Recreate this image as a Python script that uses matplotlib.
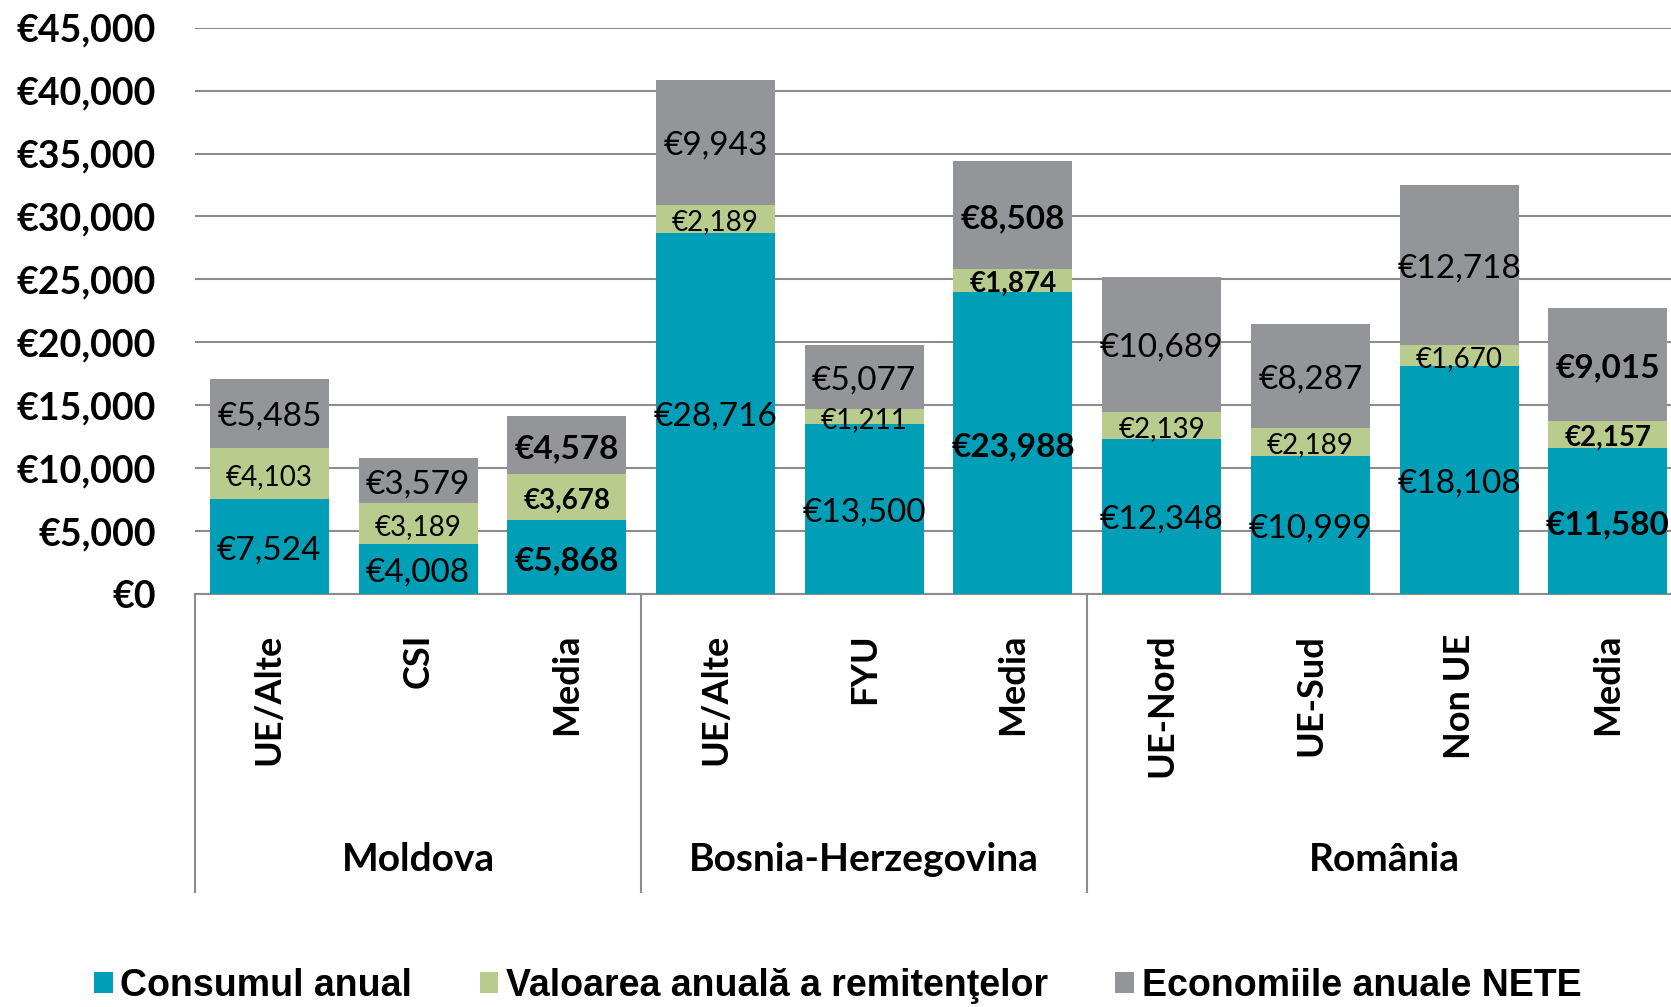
import matplotlib.pyplot as plt
import matplotlib.transforms as mtransforms
import numpy as np

categories = ['UE/Alte', 'CSI', 'Media', 'UE/Alte', 'FYU', 'Media',
              'UE-Nord', 'UE-Sud', 'Non UE', 'Media']
groups = ['Moldova', 'Bosnia-Herzegovina', 'România']
group_sizes = [3, 3, 4]
consum = [7524, 4008, 5868, 28716, 13500, 23988, 12348, 10999, 18108, 11580]
remitente = [4103, 3189, 3678, 2189, 1211, 1874, 2139, 2189, 1670, 2157]
economii = [5485, 3579, 4578, 9943, 5077, 8508, 10689, 8287, 12718, 9015]
is_media = [c == 'Media' for c in categories]
series_names = ['Consumul anual', 'Valoarea anuală a remitenţelor', 'Economiile anuale NETE']
yticks = np.arange(0, 45001, 5000)

colors = ['#009fb7', '#b8cc8e', '#939598']
grid_col = '#8c8c8c'

plt.rcParams['font.family'] = ['Lato', 'DejaVu Sans']

fig = plt.figure(figsize=(16.71, 10.07), dpi=100)
ax = fig.add_axes([0.1167, 0.4101, 0.890, 0.5624])

x = np.arange(len(categories))
bw = 0.8
b1 = ax.bar(x, consum, bw, color=colors[0], label=series_names[0], zorder=3)
b2 = ax.bar(x, remitente, bw, bottom=consum, color=colors[1], label=series_names[1], zorder=3)
bot3 = np.array(consum) + np.array(remitente)
b3 = ax.bar(x, economii, bw, bottom=bot3, color=colors[2], label=series_names[2], zorder=3)

# value labels, centred in each segment (nudged down a little)
for i in range(len(categories)):
    w = 'bold' if is_media[i] else 'normal'
    segs = [(0, consum[i], 24), (consum[i], remitente[i], 20), (bot3[i], economii[i], 24)]
    for bottom, val, fs in segs:
        ax.annotate('€{:,}'.format(val), (x[i], bottom + val / 2), xytext=(0, -2.5),
                    textcoords='offset points', ha='center', va='center',
                    fontsize=fs, fontweight=w, color='black', zorder=4)

ax.set_xlim(-0.5, len(categories) - 0.5)
ax.set_ylim(0, 45000)
ax.set_yticks(yticks)
ax.set_yticklabels(['€{:,}'.format(v) for v in yticks], fontsize=27, fontweight='bold')
ax.tick_params(axis='y', length=0, pad=28)
ax.tick_params(axis='x', length=0, labelbottom=False)
ax.yaxis.grid(True, color=grid_col, lw=1.5, zorder=0)
for s in ['top', 'right', 'left']:
    ax.spines[s].set_visible(False)
ax.spines['bottom'].set_color(grid_col)
ax.spines['bottom'].set_linewidth(1.5)

trans = mtransforms.blended_transform_factory(ax.transData, ax.transAxes)
for i, c in enumerate(categories):
    ax.text(x[i], -0.07, c, rotation=90, ha='center', va='top', fontsize=26,
            fontweight='bold', transform=trans)

start = 0
for g, n in zip(groups, group_sizes):
    ax.plot([start - 0.5, start - 0.5], [0, -0.526], color=grid_col, lw=1.5,
            transform=trans, clip_on=False)
    ax.text(start - 0.5 + n / 2, -0.468, g, ha='center', va='center', fontsize=28,
            fontweight='bold', transform=trans)
    start += n
ax.plot([start - 0.5, start - 0.5], [0, -0.526], color=grid_col, lw=1.5,
        transform=trans, clip_on=False)

fig.legend(handles=[b1, b2, b3], labels=series_names, loc='center left',
           bbox_to_anchor=(0.036, 0.021), ncol=3, frameon=False,
           prop={'family': ['Liberation Sans Narrow', 'Liberation Sans'], 'weight': 'bold', 'size': 27},
           handlelength=0.5, handleheight=0.5, handletextpad=0.2, columnspacing=1.8)

fig.savefig('out.png', dpi=100)
